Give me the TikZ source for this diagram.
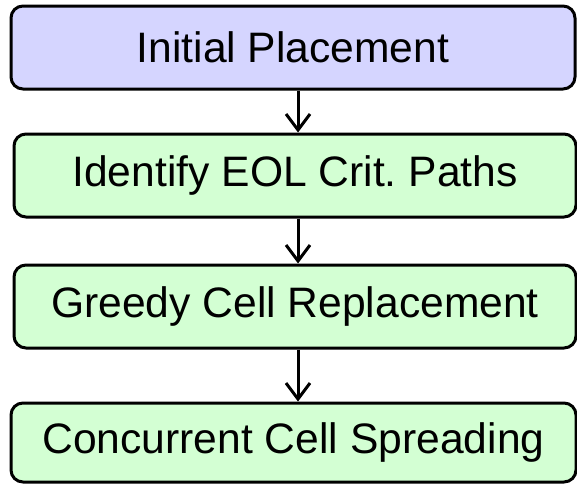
\documentclass[tikz,border=0pt]{standalone}
\usepackage{fontspec}
\setmainfont{Liberation Sans}
\usetikzlibrary{arrows.meta}
\definecolor{stepblue}{RGB}{213,213,255}
\definecolor{stepgreen}{RGB}{211,255,211}
\frenchspacing
\tikzset{
  stepbox/.style={draw=black, line width=3pt, rounded corners=12pt, inner sep=0pt,
    font=\fontsize{42.6}{50}\selectfont},
  flowarrow/.style={line width=3pt, -{Straight Barb[length=16pt,width=24pt,line width=3pt]}}
}
\begin{document}
\begin{tikzpicture}[x=1pt,y=-1pt]
  \useasboundingbox (0,0) rectangle (577,485);
  \node[stepbox, fill=stepblue, minimum width=564pt, minimum height=83pt] (b1) at (293,47.5) {Initial Placement};
  \node[stepbox, fill=stepgreen, minimum width=562pt, minimum height=83pt] (b2) at (295,175.5) {Identify EOL Crit. Paths};
  \node[stepbox, fill=stepgreen, minimum width=562pt, minimum height=83pt] (b3) at (295,306.5) {Greedy Cell Replacement};
  \node[stepbox, fill=stepgreen, minimum width=565pt, minimum height=79pt] (b4) at (293.5,442.5) {Concurrent Cell Spreading};
  \coordinate (ax) at (298,0);
  \draw[flowarrow] (b1.south -| ax) -- (b2.north -| ax);
  \draw[flowarrow] (b2.south -| ax) -- (b3.north -| ax);
  \draw[flowarrow] (b3.south -| ax) -- (b4.north -| ax);
\end{tikzpicture}
\end{document}
